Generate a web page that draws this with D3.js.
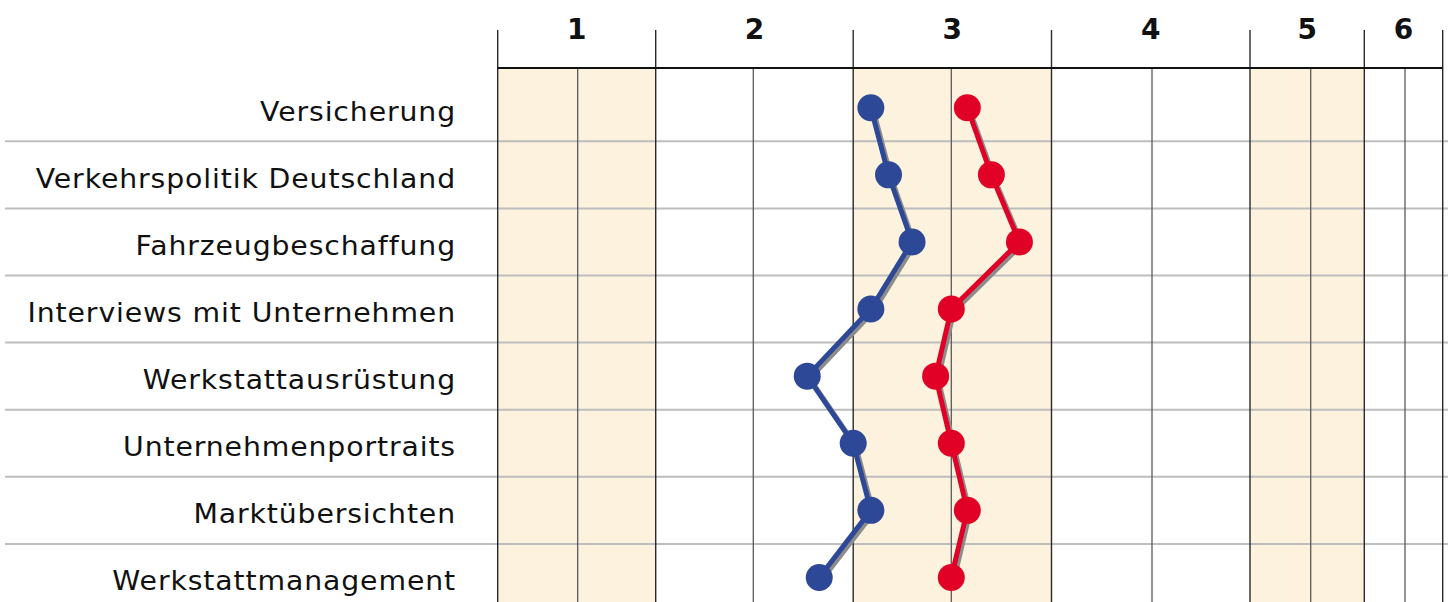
<!DOCTYPE html>
<html>
<head>
<meta charset="utf-8">
<script src="https://cdn.jsdelivr.net/npm/d3@7"></script>
<style>
  html, body { margin: 0; padding: 0; background: #fff; }
  svg { display: block; }
</style>
</head>
<body>
<svg id="chart" width="1448" height="602"></svg>
<script>
// Rated topics (rows, top to bottom)
const topics = [
  "Versicherung",
  "Verkehrspolitik Deutschland",
  "Fahrzeugbeschaffung",
  "Interviews mit Unternehmen",
  "Werkstattausrüstung",
  "Unternehmenportraits",
  "Marktübersichten",
  "Werkstattmanagement"
];

// Average grades per topic (school grade scale 1–6)
const blueSeries = [2.59, 2.68, 2.80, 2.59, 2.27, 2.50, 2.59, 2.33];
const redSeries  = [3.08, 3.20, 3.34, 3.00, 2.92, 3.00, 3.08, 3.00];

// Grade columns shown in the header
const grades = [1, 2, 3, 4, 5, 6];
const gradeLabels = ["1", "2", "3", "4", "5", "6"];
// Grades whose columns are shaded
const shadedGrades = [1, 3, 5];

const svg = d3.select("#chart");
const W = 1448, H = 602;

// Piecewise scale: each grade column has its own width
const x = d3.scaleLinear()
  .domain([0.5, 1, 1.5, 2, 2.5, 3, 3.5, 4, 4.5, 5, 5.5, 6, 6.5])
  .range([497.7, 577.7, 655.7, 753.3, 853.2, 951.3, 1051.5, 1152, 1250, 1310.7, 1364.3, 1405, 1442.7]);

const y = d3.scaleBand()
  .domain(topics)
  .range([74.2, 611])
  .padding(0);

const headerY = 68;

// Shaded grade columns
svg.append("g").selectAll("rect")
  .data(shadedGrades)
  .join("rect")
  .attr("x", g => x(g - 0.5))
  .attr("y", headerY)
  .attr("width", g => x(g + 0.5) - x(g - 0.5))
  .attr("height", H - headerY)
  .attr("fill", "#fdf2dd");

// Row separators
svg.append("g").selectAll("line")
  .data(topics.slice(1))
  .join("line")
  .attr("x1", 5).attr("x2", W)
  .attr("y1", d => y(d)).attr("y2", d => y(d))
  .attr("stroke", "#bdbdbd")
  .attr("stroke-width", 2);

// Column lines at each grade (middle of column)
svg.append("g").selectAll("line")
  .data(grades)
  .join("line")
  .attr("x1", g => x(g)).attr("x2", g => x(g))
  .attr("y1", headerY).attr("y2", H)
  .attr("stroke", "#5a5a5a")
  .attr("stroke-width", 1.3);

// Column boundaries, extending up into the header as ticks
const bounds = grades.map(g => g - 0.5).concat([6.5]);
svg.append("g").selectAll("line")
  .data(bounds)
  .join("line")
  .attr("x1", b => x(b)).attr("x2", b => x(b))
  .attr("y1", 30).attr("y2", H)
  .attr("stroke", "#2a2a2a")
  .attr("stroke-width", 1.4);

// Header baseline
svg.append("line")
  .attr("x1", x(0.5)).attr("x2", x(6.5))
  .attr("y1", headerY).attr("y2", headerY)
  .attr("stroke", "#111")
  .attr("stroke-width", 1.8);

// Header grade labels
svg.append("g").selectAll("text")
  .data(grades)
  .join("text")
  .attr("x", g => (x(g - 0.5) + x(g + 0.5)) / 2)
  .attr("y", 39)
  .attr("text-anchor", "middle")
  .attr("font-family", "'DejaVu Sans', sans-serif")
  .attr("font-weight", "bold")
  .attr("font-size", 28)
  .attr("fill", "#111")
  .text((g, i) => gradeLabels[i]);

// Topic labels, slightly widened
svg.append("g").selectAll("text")
  .data(topics)
  .join("text")
  .attr("transform", d => `translate(456,${y(d) + y.bandwidth() / 2 + 13}) scale(1.09,1)`)
  .attr("text-anchor", "end")
  .attr("font-family", "'DejaVu Sans', sans-serif")
  .attr("font-size", 26)
  .attr("letter-spacing", 0.8)
  .attr("fill", "#111")
  .text(d => d);

// Series lines with drop shadow, then dots
const series = [
  { values: blueSeries, color: "#2e4898" },
  { values: redSeries,  color: "#e10026" }
];

const line = d3.line()
  .x(d => x(d.v))
  .y(d => y(d.t) + y.bandwidth() / 2);

series.forEach(s => {
  const pts = s.values.map((v, i) => ({ v, t: topics[i] }));
  const g = svg.append("g");
  g.append("path")
    .attr("d", line(pts))
    .attr("transform", "translate(2.5,2.5)")
    .attr("fill", "none")
    .attr("stroke", "#8c8c8c")
    .attr("stroke-width", 5);
  g.append("path")
    .attr("d", line(pts))
    .attr("fill", "none")
    .attr("stroke", s.color)
    .attr("stroke-width", 5);
  g.selectAll("circle")
    .data(pts)
    .join("circle")
    .attr("cx", d => x(d.v))
    .attr("cy", d => y(d.t) + y.bandwidth() / 2)
    .attr("r", 13.5)
    .attr("fill", s.color);
});
</script>
</body>
</html>
